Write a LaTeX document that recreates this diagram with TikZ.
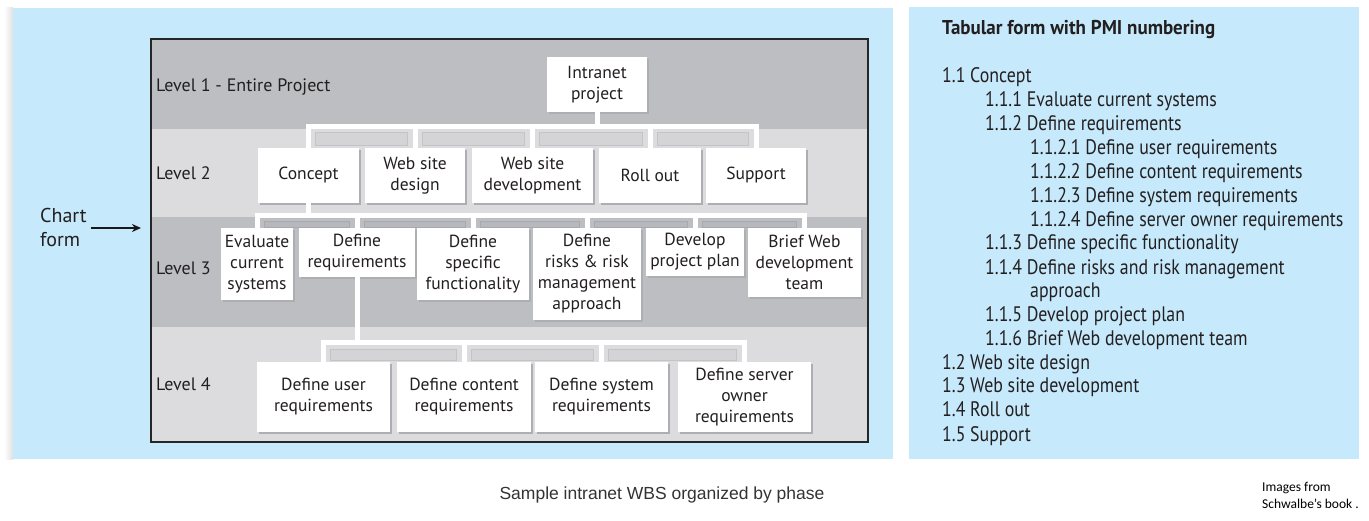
\documentclass[tikz,border=0pt]{standalone}
\usepackage{fontspec}
\setmainfont{PT Sans}
\newfontfamily\chartfont{PT Sans}
\newfontfamily\tabfont{PT Sans}[FakeStretch=0.85]
\newfontfamily\titlefont{PT Sans}[FakeStretch=0.95]
\newfontfamily\capfont{Liberation Sans}
\newfontfamily\notefont{Carlito}
\usetikzlibrary{arrows.meta,calc,shadows}
\definecolor{panelblue}{HTML}{C6E9FB}
\definecolor{banddark}{HTML}{BDBEC2}
\definecolor{bandlight}{HTML}{DCDCDE}
\definecolor{boxshadow}{HTML}{ADAEB2}
\definecolor{busshL}{HTML}{D4D4D7}
\definecolor{busshLedge}{HTML}{C4C4C8}
\definecolor{busshD}{HTML}{B7B8BC}
\definecolor{inkc}{HTML}{231F20}
\pgfdeclarelayer{bg}
\pgfsetlayers{bg,main}
\tikzset{
  wbsbox/.style={fill=white, inner sep=1pt, align=center, text=inkc,
    font=\chartfont\fontsize{17.5}{21}\selectfont,
    general shadow={fill=boxshadow, shadow xshift=2pt, shadow yshift=-2pt}},
  conn/.style={draw=white, line width=5pt},
  lvl/.style={anchor=west, inner sep=0, text=inkc, font=\chartfont\fontsize{18}{20}\selectfont},
  tabline/.style={anchor=base west, inner sep=0, text=inkc, font=\tabfont\fontsize{21}{24}\selectfont},
  shL/.style={fill=busshL, draw=busshLedge, line width=0.6pt},
  shD/.style={fill=busshD, draw=busshD!92!black, line width=0.6pt}
}
\begin{document}
\begin{tikzpicture}[x=1pt,y=-1pt]
\useasboundingbox (0,0) rectangle (1369,521);
\begin{pgfonlayer}{bg}
\fill[white] (0,0) rectangle (1369,521);
\shade[left color=white, right color=black!12] (4,8) rectangle (13,459);
\fill[panelblue] (13,8) rectangle (893,459);
\fill[panelblue] (909,7) rectangle (1359,459);
\fill[banddark] (150,38) rectangle (867,129);
\fill[bandlight] (150,129) rectangle (867,217);
\fill[banddark] (150,217) rectangle (867,327);
\fill[bandlight] (150,327) rectangle (867,441);
\end{pgfonlayer}
\node[draw=black!85, line width=2pt, minimum width=717pt, minimum height=403pt, inner sep=0, anchor=north west] (frame) at (150,38) {};

% level labels
\node[lvl] (lv1) at (156,87) {Level 1 - Entire Project};
\node[lvl] (lv2) at (156,173) {Level 2};
\node[lvl] (lv3) at (156,268) {Level 3};
\node[lvl] (lv4) at (156,384) {Level 4};

% level 1
\node[wbsbox, minimum width=100pt, minimum height=55pt] (intranet) at (597,84.5) {Intranet\\project};
% level 2
\node[wbsbox, minimum width=101pt, minimum height=55pt] (concept) at (308.5,175.5) {Concept};
\node[wbsbox, minimum width=100pt, minimum height=55pt] (wsd) at (415,175.5) {Web site\\design};
\node[wbsbox, minimum width=121pt, minimum height=55pt] (wsdev) at (532.5,175.5) {Web site\\development};
\node[wbsbox, minimum width=102pt, minimum height=55pt] (roll) at (650,175.5) {Roll out};
\node[wbsbox, minimum width=100pt, minimum height=55pt] (support) at (756,175.5) {Support};
% level 3
\node[wbsbox, minimum width=72pt, minimum height=72pt] (eval) at (257,264) {Evaluate\\current\\systems};
\node[wbsbox, minimum width=116pt, minimum height=49pt] (defreq) at (357,252.5) {Define\\requirements};
\node[wbsbox, minimum width=112pt, minimum height=72pt] (spec) at (473,264) {Define\\specific\\functionality};
\node[wbsbox, minimum width=108pt, minimum height=92pt] (risk) at (587,274) {Define\\risks \& risk\\management\\approach};
\node[wbsbox, minimum width=98pt, minimum height=48pt] (plan) at (695,252) {Develop\\project plan};
\node[wbsbox, minimum width=113pt, minimum height=69pt] (brief) at (804.5,262.5) {Brief Web\\development\\team};
% level 4
\node[wbsbox, minimum width=133pt, minimum height=70pt] (user) at (323.5,397) {Define user\\requirements};
\node[wbsbox, minimum width=134pt, minimum height=70pt] (content) at (464,397) {Define content\\requirements};
\node[wbsbox, minimum width=133pt, minimum height=70pt] (system) at (601.5,397) {Define system\\requirements};
\node[wbsbox, minimum width=133pt, minimum height=70pt] (server) at (744.5,397) {Define server\\owner\\requirements};

% bus shadows
\begin{pgfonlayer}{bg}
\foreach \a/\b in {concept/wsd,wsd/wsdev,wsdev/roll,roll/support}
  \draw[shL] ($(\a.north |- 0,132)+(7,0)$) rectangle ($(\b.north |- 0,145)+(-8,0)$);
\foreach \a/\b in {eval/defreq,defreq/spec,spec/risk,risk/plan,plan/brief}
  \draw[shD] ($(\a.north |- 0,221)+(7,0)$) rectangle ($(\b.north |- 0,227)+(-8,0)$);
\foreach \a/\b in {user/content,content/system,system/server}
  \draw[shL] ($(\a.north |- 0,349)+(7,0)$) rectangle ($(\b.north |- 0,360)+(-8,0)$);
\end{pgfonlayer}

% connectors
\draw[conn] (intranet.south) -- ++(0,14) coordinate (b1);
\foreach \c in {concept,wsd,wsdev,roll,support} \draw[conn] (b1) -| (\c.north);
\draw[conn] (concept.south) -- ++(0,12) coordinate (b2);
\foreach \c in {eval,defreq,spec,risk,plan,brief} \draw[conn] (b2) -| (\c.north);
\draw[conn] (defreq.south) -- ++(0,65) coordinate (b3);
\foreach \c in {user,content,system,server} \draw[conn] (b3) -| (\c.north);

% chart form label
\node[anchor=west, align=left, inner sep=0, text=inkc, font=\chartfont\fontsize{20}{24}\selectfont] (chartlbl) at (40,228) {Chart\\form};
\draw[-{Stealth[length=9pt,width=8pt]}, line width=2.2pt, black!90, shorten <=4pt, shorten >=9pt] (chartlbl.east) -- (chartlbl.east -| frame.west);

% tabular form
\node[anchor=base west, inner sep=0, text=inkc, font=\titlefont\bfseries\fontsize{20}{24}\selectfont] (ttitle) at (942,34.3) {Tabular form with PMI numbering};
\foreach \x/\y/\t [count=\i] in {
 942/83/1.1 Concept,
 985/107/1.1.1 Evaluate current systems,
 985/131/1.1.2 Define requirements,
 1030/155/1.1.2.1 Define user requirements,
 1030/179/1.1.2.2 Define content requirements,
 1030/203/1.1.2.3 Define system requirements,
 1030/227/1.1.2.4 Define server owner requirements,
 985/250/1.1.3 Define specific functionality,
 985/275/1.1.4 Define risks and risk management,
 1030/298/approach,
 985/322/1.1.5 Develop project plan,
 985/346/1.1.6 Brief Web development team,
 942/370/1.2 Web site design,
 942/393/1.3 Web site development,
 942/417/1.4 Roll out,
 942/441/1.5 Support}
 \node[tabline] (tl\i) at (\x,\y) {\t};

% captions
\node[inner sep=0, text=black!80, font=\capfont\fontsize{17.5}{19}\selectfont] (caption) at (662,495) {Sample intranet WBS organized by phase};
\node[anchor=base west, align=left, inner sep=0, text=black, font=\notefont\fontsize{13.5}{17}\selectfont] (note) at (1262,508) {Images from\\Schwalbe’s book .};
\end{tikzpicture}
\end{document}
